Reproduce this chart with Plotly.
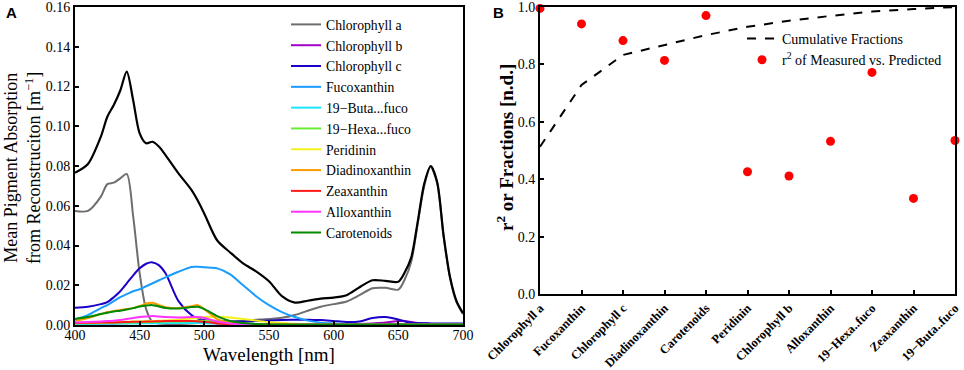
import plotly.graph_objects as go

# ---------------- Panel A data ----------------
wavelength = [400, 410, 420, 425, 430, 435, 440, 445, 450, 455, 460, 465, 470, 480, 490, 495, 500,
              510, 520, 530, 540, 550, 560, 570, 580, 590, 600, 610, 620, 630, 640, 650, 655, 660,
              665, 670, 675, 680, 685, 690, 695, 700]

total_abs = [.0766, .0810, .0948, .1048, .1107, .1180, .1275, .1130, .0964, .0914, .0922, .0897, .0855,
             .0763, .0680, .0625, .0560, .0425, .0365, .0310, .0270, .0220, .0145, .0113, .0122, .0133,
             .0138, .0150, .0190, .0225, .0222, .0218, .0265, .0340, .0520, .0710, .0800, .0720, .0450,
             .0240, .0120, .0059]

chl_a = [.0574, .0574, .0646, .0709, .0716, .0738, .0760, .0545, .0260, .0080, .0015, .0008, .0005,
         .0005, .0008, .0010, .0012, .0015, .0017, .0022, .0026, .0030, .0036, .0050, .0072, .0092,
         .0105, .0118, .0150, .0185, .0187, .0178, .0230, .0320, .0510, .0700, .0795, .0715, .0445,
         .0235, .0115, .0055]

chl_b = [.0005, .0006, .0007, .0008, .0008, .0009, .0009, .0010, .0010, .0011, .0012, .0012, .0013,
         .0014, .0014, .0013, .0012, .0008, .0005, .0004, .0003, .0003, .0003, .0003, .0003, .0003,
         .0003, .0004, .0005, .0008, .0012, .0020, .0020, .0015, .0010, .0008, .0006, .0004, .0003,
         .0002, .0002, .0002]

chl_c = [.0087, .0092, .0105, .0115, .0140, .0170, .0210, .0250, .0285, .0308, .0315, .0300, .0260,
         .0120, .0050, .0033, .0025, .0020, .0018, .0018, .0020, .0022, .0025, .0026, .0027, .0025,
         .0020, .0015, .0018, .0035, .0040, .0028, .0018, .0012, .0010, .0009, .0008, .0008, .0008,
         .0008, .0008, .0008]

fucoxanthin = [.0030, .0050, .0085, .0100, .0120, .0140, .0155, .0170, .0180, .0195, .0210, .0225, .0240,
               .0268, .0292, .0293, .0290, .0285, .0255, .0200, .0145, .0100, .0065, .0040, .0022, .0012,
               .0008, .0005, .0004, .0003, .0003, .0003, .0003, .0003, .0003, .0003, .0003, .0003, .0003,
               .0003, .0003, .0003]

buta_fuco = [.0004, .0005, .0006, .0006, .0006, .0007, .0007, .0008, .0008, .0009, .0009, .0009, .0010,
             .0010, .0010, .0010, .0009, .0007, .0004, .0002, .0001, .0001, .0001, .0001, .0001, .0001,
             .0001, .0001, .0001, .0001, .0001, .0001, .0001, .0001, .0001, .0001, .0001, .0001, .0001,
             .0001, .0001, .0001]

hexa_fuco = [.0008, .0009, .0010, .0011, .0011, .0012, .0012, .0013, .0014, .0014, .0015, .0016, .0017,
             .0018, .0020, .0021, .0022, .0020, .0014, .0008, .0004, .0002, .0001, .0001, .0001, .0001,
             .0001, .0001, .0001, .0001, .0001, .0001, .0001, .0001, .0001, .0001, .0001, .0001, .0001,
             .0001, .0001, .0001]

peridinin = [.0010, .0012, .0013, .0014, .0015, .0015, .0016, .0017, .0018, .0019, .0020, .0021, .0023,
             .0027, .0033, .0036, .0040, .0042, .0038, .0030, .0022, .0015, .0010, .0006, .0004, .0002,
             .0001, .0001, .0001, .0001, .0001, .0001, .0001, .0001, .0001, .0001, .0001, .0001, .0001,
             .0001, .0001, .0001]

diadinoxanthin = [.0020, .0035, .0055, .0065, .0070, .0075, .0080, .0085, .0095, .0108, .0112, .0100, .0090,
                  .0085, .0095, .0100, .0080, .0030, .0010, .0004, .0002, .0001, .0001, .0001, .0001,
                  .0001, .0001, .0001, .0001, .0001, .0001, .0001, .0001, .0001, .0001, .0001, .0001,
                  .0001, .0001, .0001, .0001, .0001]

zeaxanthin = [.0010, .0011, .0012, .0013, .0013, .0014, .0015, .0016, .0016, .0017, .0018, .0019, .0020,
              .0020, .0020, .0018, .0016, .0008, .0003, .0001, .0001, .0001, .0001, .0001, .0001, .0001,
              .0001, .0001, .0001, .0001, .0001, .0001, .0001, .0001, .0001, .0001, .0001, .0001, .0001,
              .0001, .0001, .0001]

alloxanthin = [.0012, .0015, .0018, .0020, .0022, .0025, .0030, .0035, .0040, .0043, .0045, .0043, .0040,
               .0038, .0040, .0040, .0035, .0018, .0007, .0003, .0001, .0001, .0001, .0001, .0001, .0001,
               .0001, .0001, .0001, .0001, .0001, .0001, .0001, .0001, .0001, .0001, .0001, .0001, .0001,
               .0001, .0001, .0001]

carotenoids = [.0030, .0040, .0055, .0062, .0068, .0072, .0078, .0085, .0093, .0098, .0100, .0093, .0086,
               .0083, .0090, .0092, .0080, .0045, .0020, .0010, .0005, .0003, .0002, .0002, .0002, .0002,
               .0002, .0002, .0002, .0002, .0002, .0002, .0002, .0002, .0002, .0002, .0002, .0002, .0002,
               .0002, .0002, .0002]

pigment_names = ["Chlorophyll a", "Chlorophyll b", "Chlorophyll c", "Fucoxanthin", "19\u2212Buta...fuco",
                 "19\u2212Hexa...fuco", "Peridinin", "Diadinoxanthin", "Zeaxanthin", "Alloxanthin", "Carotenoids"]
pigment_series = [chl_a, chl_b, chl_c, fucoxanthin, buta_fuco, hexa_fuco, peridinin,
                  diadinoxanthin, zeaxanthin, alloxanthin, carotenoids]
pigment_colors = ["#6e6e6e", "#a000c8", "#1a00c8", "#1a9cff", "#19e6ff", "#66ee33", "#f2f21a",
                  "#ff9900", "#ff1a1a", "#ff33ff", "#008a00"]

a_yticks = [0.0, 0.02, 0.04, 0.06, 0.08, 0.10, 0.12, 0.14, 0.16]
a_xticks = [400, 450, 500, 550, 600, 650, 700]

# ---------------- Panel B data ----------------
b_categories = ["Chlorophyll a", "Fucoxanthin", "Chlorophyll c", "Diadinoxanthin", "Carotenoids",
                "Peridinin", "Chlorophyll b", "Alloxanthin", "19\u2212Hexa..fuco", "Zeaxanthin", "19\u2212Buta..fuco"]
cumulative_fractions = [0.513, 0.728, 0.833, 0.868, 0.902, 0.931, 0.952, 0.969, 0.984, 0.993, 1.0]
r2_measured_predicted = [0.995, 0.941, 0.883, 0.814, 0.970, 0.426, 0.411, 0.532, 0.772, 0.333, 0.535]
b_yticks = [0.0, 0.2, 0.4, 0.6, 0.8, 1.0]

SERIF = "Liberation Serif, Times New Roman, serif"
SANS = "Liberation Sans, Arial, sans-serif"

W, H = 964, 370


def px(x):
    return min(max(x / W, 0.0), 1.0)


def py(y):
    return min(max((H - y) / H, 0.0), 1.0)


fig = go.Figure()

for name, vals, col in zip(pigment_names, pigment_series, pigment_colors):
    fig.add_trace(go.Scatter(x=wavelength, y=vals, mode="lines", name=name,
                             line=dict(color=col, width=2, shape="spline", smoothing=0.8),
                             xaxis="x", yaxis="y", legend="legend"))

fig.add_trace(go.Scatter(x=wavelength, y=total_abs, mode="lines", name="Total", showlegend=False,
                         line=dict(color="black", width=2.2, shape="spline", smoothing=0.8),
                         xaxis="x", yaxis="y"))

fig.add_trace(go.Scatter(x=b_categories, y=cumulative_fractions, mode="lines", name="Cumulative Fractions",
                         line=dict(color="black", width=2, dash="dash"),
                         xaxis="x2", yaxis="y2", legend="legend2", cliponaxis=False))
fig.add_trace(go.Scatter(x=b_categories, y=r2_measured_predicted, mode="markers",
                         name="r<sup>2</sup> of Measured vs. Predicted",
                         marker=dict(color="#ff0000", size=9),
                         xaxis="x2", yaxis="y2", legend="legend2", cliponaxis=False))

axis_common = dict(showline=True, linecolor="black", linewidth=2, mirror=True, ticks="inside",
                   ticklen=4, tickcolor="black", tickwidth=1.5, showgrid=False, zeroline=False,
                   automargin=False, ticklabeloverflow="allow",
                   tickfont=dict(family=SERIF, size=14, color="black"))

fig.update_layout(
    width=W, height=H,
    margin=dict(l=0, r=0, t=0, b=0, autoexpand=False),
    paper_bgcolor="white", plot_bgcolor="white",
    xaxis=dict(domain=[px(75), px(463)], range=[400, 700], tickvals=a_xticks, anchor="y",
               ticklabelstandoff=-4, **axis_common),
    yaxis=dict(domain=[py(325), py(7)], range=[0, 0.16], tickvals=a_yticks,
               ticktext=[f"{v:.2f}" for v in a_yticks], anchor="x", **axis_common),
    xaxis2=dict(domain=[px(540), px(955)], range=[0, 10], anchor="y2", tickangle=-45,
                type="category", **{**axis_common,
                                    "tickfont": dict(family=SERIF, size=12.5, color="black", weight="bold")}),
    yaxis2=dict(domain=[py(294), py(7)], range=[0, 1], tickvals=b_yticks,
                ticktext=[f"{v:.1f}" for v in b_yticks], anchor="x2", **axis_common),
    legend=dict(x=px(286), y=py(9), xanchor="left", yanchor="top", bgcolor="rgba(0,0,0,0)",
                font=dict(family=SERIF, size=13.7, color="black"), itemwidth=30, tracegroupgap=0),
    legend2=dict(x=px(742), y=py(23), xanchor="left", yanchor="top", bgcolor="rgba(0,0,0,0)",
                 font=dict(family=SERIF, size=14, color="black"), itemwidth=30, tracegroupgap=0),
    showlegend=True,
    annotations=[
        dict(text="<b>A</b>", x=px(4), y=py(13), xref="paper", yref="paper", xanchor="left",
             yanchor="middle", showarrow=False, font=dict(family=SANS, size=15, color="black")),
        dict(text="<b>B</b>", x=px(491), y=py(13), xref="paper", yref="paper", xanchor="left",
             yanchor="middle", showarrow=False, font=dict(family=SANS, size=15, color="black")),
        dict(text="Mean Pigment Absorption<br>from Reconstruciton [m<sup>\u22121</sup>]",
             x=px(22), y=py(168), xref="paper", yref="paper", xanchor="center", yanchor="middle",
             textangle=-90, showarrow=False, font=dict(family=SERIF, size=18, color="black")),
        dict(text="Wavelength [nm]", x=px(269), y=py(354), xref="paper", yref="paper",
             xanchor="center", yanchor="middle", showarrow=False,
             font=dict(family=SERIF, size=19, color="black")),
        dict(text="<b>r<sup>2</sup> or Fractions [n.d.]</b>", x=px(505), y=py(148), xref="paper",
             yref="paper", xanchor="center", yanchor="middle", textangle=-90, showarrow=False,
             font=dict(family=SERIF, size=19, color="black")),
    ],
)

# remove the default 8px page margin so the figure sits at the window's top-left corner
fig.write_html("out.html", config={"displayModeBar": False},
               post_script="document.body.style.margin='0px';")
